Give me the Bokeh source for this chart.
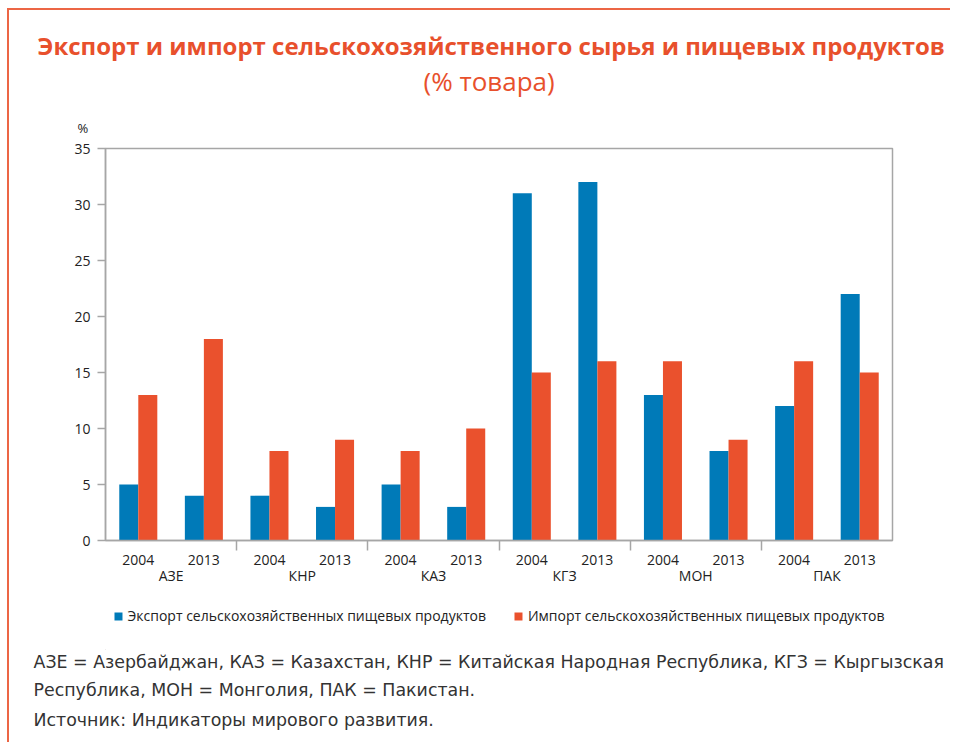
from bokeh.plotting import figure
from bokeh.models import (FactorRange, ColumnDataSource, Range1d, LinearAxis, CategoricalAxis,
                          FixedTicker, Title, Legend, LegendItem)
from bokeh.layouts import column
from bokeh.transform import dodge
from bokeh.embed import file_html
from bokeh.resources import INLINE

countries = ["АЗЕ", "КНР", "КАЗ", "КГЗ", "МОН", "ПАК"]
years = ["2004", "2013"]
export_vals = [5, 4, 4, 3, 5, 3, 31, 32, 13, 8, 12, 22]
import_vals = [13, 18, 8, 9, 8, 10, 15, 16, 16, 9, 16, 15]
y_ticks = [0, 5, 10, 15, 20, 25, 30, 35]

title1 = "Экспорт и импорт сельскохозяйственного сырья и пищевых продуктов"
title2 = "(% товара)"
y_unit = "%"
series_names = ["Экспорт сельскохозяйственных пищевых продуктов",
                "Импорт сельскохозяйственных пищевых продуктов"]
notes = ["АЗЕ = Азербайджан, КАЗ = Казахстан, КНР = Китайская Народная Республика, КГЗ = Кыргызская",
         "Республика, МОН = Монголия, ПАК = Пакистан.",
         "Источник: Индикаторы мирового развития."]

BLUE = "#007ab8"
ORANGE = "#ea512d"
TITLE_C = "#e8502c"
GRAY = "#a6a6a6"
TXT = "#222222"
FONT = "Open Sans"
NOTE_FONT = "DejaVu Sans"
W = 941
BL, BR = 96, 58

factors = [(c, y) for c in countries for y in years]
src = ColumnDataSource(dict(x=factors, exp=export_vals, imp=import_vals))

p = figure(width=W, height=580, output_backend="svg", toolbar_location=None,
           x_range=FactorRange(*factors, factor_padding=0, group_padding=0, range_padding=0),
           y_range=Range1d(0, max(y_ticks)), x_axis_location=None,
           min_border_left=BL, min_border_right=BR, min_border_top=138, min_border_bottom=50)

p.vbar(x=dodge("x", -0.145, range=p.x_range), top="exp", width=0.29, source=src,
       fill_color=BLUE, line_color=None)
p.vbar(x=dodge("x", 0.145, range=p.x_range), top="imp", width=0.29, source=src,
       fill_color=ORANGE, line_color=None)

p.xgrid.visible = False
p.ygrid.visible = False
p.outline_line_color = GRAY
p.outline_line_width = 1.5

p.yaxis.ticker = y_ticks
p.yaxis.axis_line_color = GRAY
p.yaxis.axis_line_width = 1.5
p.yaxis.major_tick_line_color = GRAY
p.yaxis.major_tick_line_width = 1.5
p.yaxis.major_tick_out = 8
p.yaxis.major_tick_in = 0
p.yaxis.minor_tick_line_color = None
p.yaxis.major_label_standoff = 7
p.yaxis.major_label_text_font = FONT
p.yaxis.major_label_text_font_size = "14px"
p.yaxis.major_label_text_color = TXT

# short separator ticks between country groups
n_per = len(years)
group_bounds = [n_per * i for i in range(1, len(countries))]
sep_axis = LinearAxis(ticker=FixedTicker(ticks=[], minor_ticks=group_bounds),
                      axis_line_color=GRAY, axis_line_width=1.5,
                      major_tick_line_color=None, major_tick_out=0, major_tick_in=0,
                      minor_tick_line_color=GRAY, minor_tick_line_width=1.5,
                      minor_tick_out=10, minor_tick_in=0, major_label_standoff=0)
cat_axis = CategoricalAxis(axis_line_color=None, major_tick_line_color=None,
                           minor_tick_line_color=None, separator_line_color=None,
                           major_label_standoff=-2,
                           major_label_text_font=FONT, major_label_text_font_size="14px",
                           major_label_text_color=TXT,
                           group_text_font=FONT, group_text_font_size="14px",
                           group_text_color=TXT, group_text_font_style="normal")
p.add_layout(sep_axis, "below")
p.add_layout(cat_axis, "below")

# above: closest to the frame first
p.add_layout(Title(text=y_unit, align="left", offset=-28, standoff=22, vertical_align="middle",
                   text_font=FONT, text_font_size="13px", text_font_style="normal",
                   text_color=TXT), "above")
p.add_layout(Title(text=title2, align="left", offset=318, standoff=14, vertical_align="middle",
                   text_font=FONT, text_font_size="26px", text_font_style="normal",
                   text_color=TITLE_C), "above")
p.add_layout(Title(text=title1, align="left", offset=-68, standoff=-16, vertical_align="middle",
                   text_font=FONT, text_font_size="24px", text_font_style="bold",
                   text_color=TITLE_C), "above")

# ---- bottom: legend + notes
bot = figure(width=W, height=152, output_backend="svg", toolbar_location=None,
             x_range=Range1d(0, 1), y_range=Range1d(0, 1),
             x_axis_location=None, y_axis_location=None, outline_line_color=None,
             min_border_left=BL, min_border_right=BR, min_border_top=0, min_border_bottom=93)
bot.xgrid.visible = False
bot.ygrid.visible = False
# legend-only renderers (their bars lie outside the visible range)
d1 = bot.vbar(x=[-5], top=[-5], bottom=[-6], width=0.1, fill_color=BLUE, line_color=None)
d2 = bot.vbar(x=[-5], top=[-5], bottom=[-6], width=0.1, fill_color=ORANGE, line_color=None)
legend = Legend(items=[LegendItem(label=series_names[0], renderers=[d1]),
                       LegendItem(label=series_names[1], renderers=[d2])],
                orientation="horizontal", location="top_center",
                label_text_font=FONT, label_text_font_size="14px", label_text_color=TXT,
                glyph_width=10, glyph_height=10, label_standoff=5, spacing=27,
                border_line_color=None, background_fill_alpha=0, margin=16, padding=0)
bot.add_layout(legend, "center")

for txt, sd in zip(notes, [2, 10, 6]):
    bot.add_layout(Title(text=txt, align="left", offset=-72, standoff=sd, vertical_align="middle",
                         text_font=NOTE_FONT, text_font_size="17.4px", text_font_style="normal",
                         text_color="#333333"), "below")

layout = column(p, bot, spacing=0, margin=(8, 0, 0, 7),
                styles={"border-top": "2px solid #ec6645", "border-left": "2px solid #ec6645"})

open("out.html", "w").write(file_html(layout, INLINE))
